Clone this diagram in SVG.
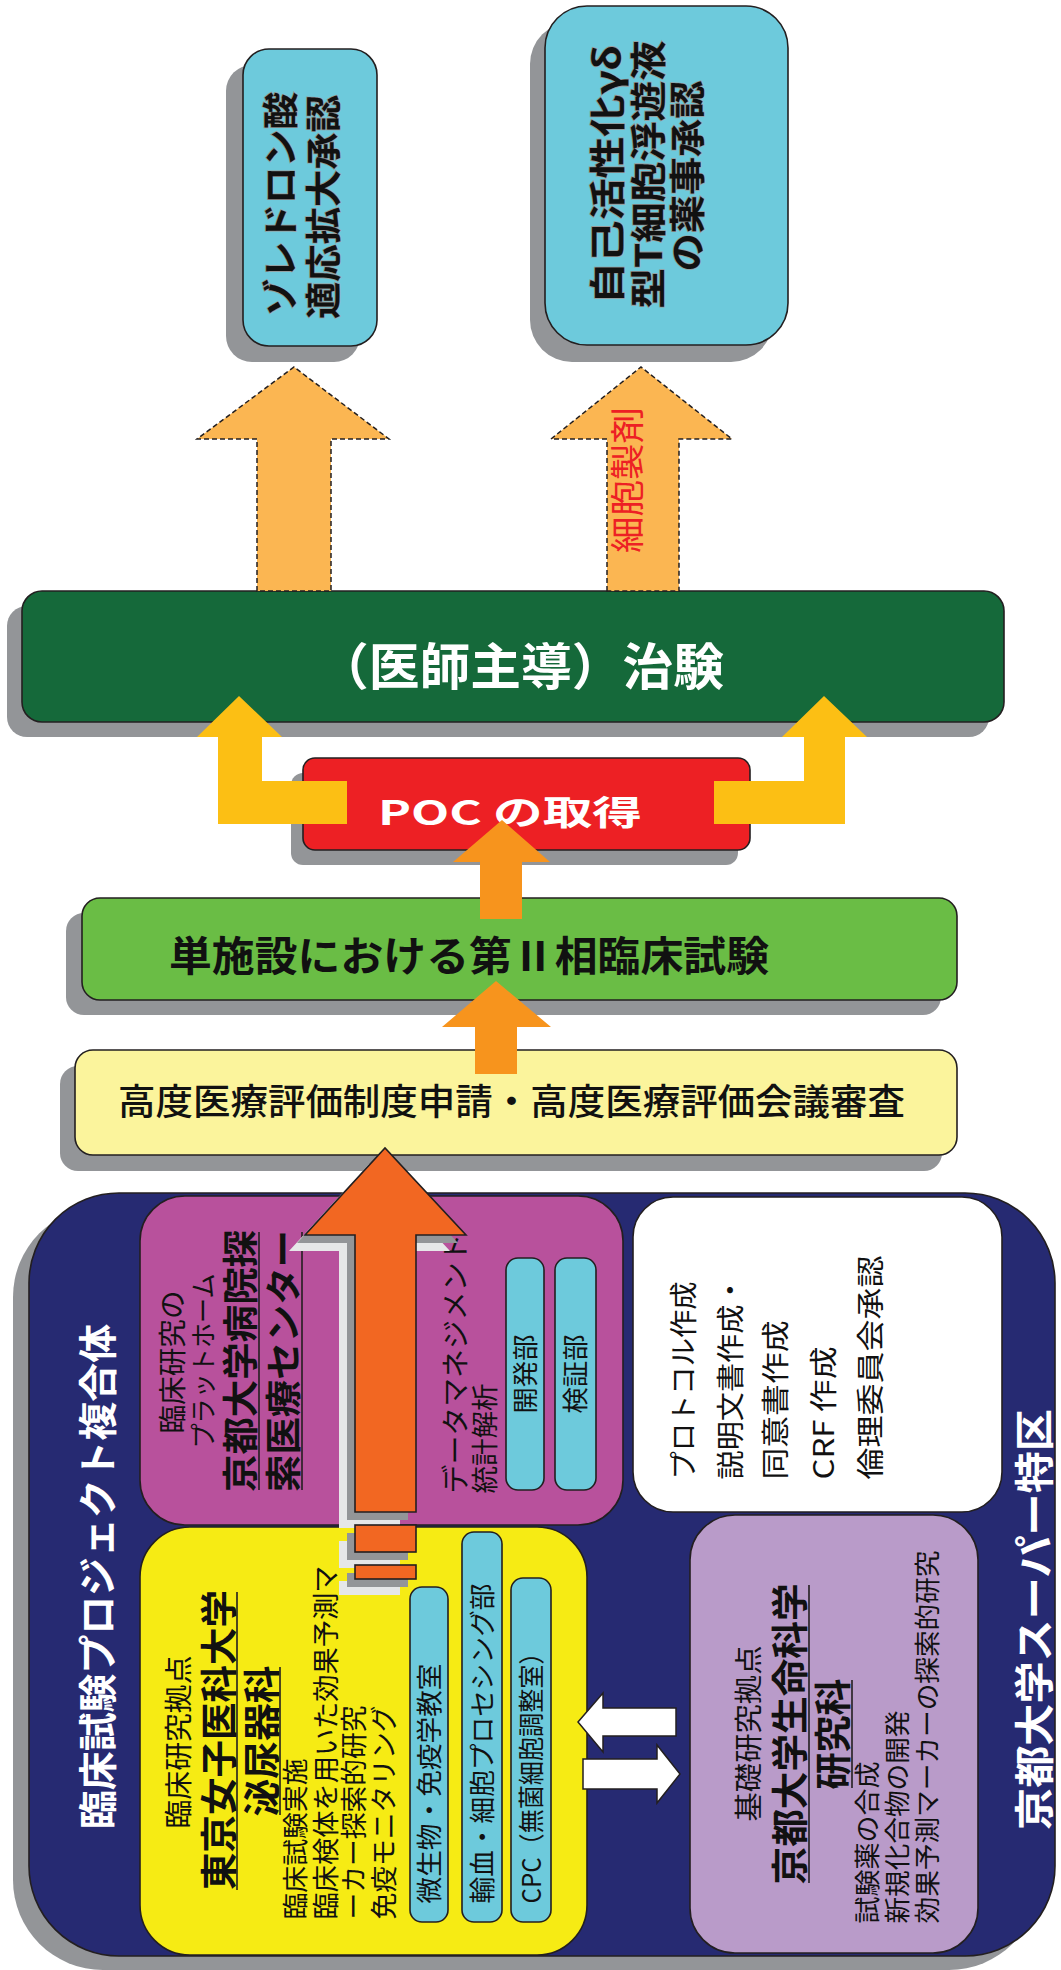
<svg xmlns="http://www.w3.org/2000/svg" width="1061" height="1970" viewBox="0 0 1061 1970">
<style>
.sh{fill:#939598}
.bx{stroke:#231F20;stroke-width:1.6}
.t{font-family:"Noto Sans CJK JP","Noto Sans",sans-serif}
.b{font-weight:bold}
.r{text-anchor:middle}
.ul{stroke:#231F20;stroke-width:1.6}
.halo{stroke:#9a9a9a;stroke-width:1.4;paint-order:stroke}
.cy{fill:#6DCADC;stroke:#231F20;stroke-width:1.6}
</style>
<rect width="1061" height="1970" fill="#ffffff"/>

<!-- Top box A -->
<g id="node-zoledronic">
<rect class="sh" x="226" y="65" width="134" height="297" rx="26"/>
<rect class="bx" x="243" y="49" width="134" height="297" rx="26" fill="#6DCADC"/>
<g class="t b r halo" font-size="36" fill="#111">
<text transform="translate(293.7,204) rotate(-90)" textLength="224" lengthAdjust="spacingAndGlyphs">ゾレドロン酸</text>
<text transform="translate(336.7,207) rotate(-90)" textLength="224" lengthAdjust="spacingAndGlyphs">適応拡大承認</text>
</g>
</g>

<!-- Top box B -->
<g id="node-gammadelta">
<rect class="sh" x="530" y="22" width="243" height="340" rx="42"/>
<rect class="bx" x="545" y="6" width="243" height="339" rx="42" fill="#6DCADC"/>
<g class="t b r halo" font-size="36" fill="#111">
<text transform="translate(620.7,174.5) rotate(-90)" textLength="259" lengthAdjust="spacingAndGlyphs">自己活性化γδ</text>
<text transform="translate(661.7,174.5) rotate(-90)" textLength="268" lengthAdjust="spacingAndGlyphs">型T細胞浮遊液</text>
<text transform="translate(700.7,176) rotate(-90)" textLength="191" lengthAdjust="spacingAndGlyphs">の薬事承認</text>
</g>
</g>

<!-- Green box: investigator-initiated trial -->
<g id="node-trial">
<rect class="sh" x="7" y="606" width="982" height="131" rx="20"/>
<rect class="bx" x="22" y="591" width="982" height="131" rx="20" fill="#15693A"/>
<text class="t b" x="318" y="685" font-size="50" fill="#ffffff" textLength="406" lengthAdjust="spacingAndGlyphs">（医師主導）治験</text>
</g>

<!-- POC box -->
<g id="node-poc">
<rect class="sh" x="291" y="773" width="447" height="92" rx="12"/>
<rect class="bx" x="303" y="758" width="447" height="92" rx="12" fill="#ED2024"/>
<text class="t b" x="378" y="825" font-size="34" fill="#ffffff" textLength="264" lengthAdjust="spacingAndGlyphs">POC の取得</text>
</g>

<!-- Light green box -->
<g id="node-phase2">
<rect class="sh" x="66" y="913" width="875" height="102" rx="18"/>
<rect class="bx" x="82" y="898" width="875" height="102" rx="18" fill="#6ABD45"/>
<text class="t b" x="169" y="971" font-size="41" fill="#111" textLength="600" lengthAdjust="spacingAndGlyphs">単施設における第Ⅱ相臨床試験</text>
</g>

<!-- Light yellow box -->
<g id="node-advanced">
<rect class="sh" x="60" y="1066" width="882" height="105" rx="18"/>
<rect class="bx" x="75" y="1050" width="882" height="105" rx="18" fill="#FBF49C"/>
<text class="t" x="118" y="1115" font-size="36" font-weight="500" fill="#111" textLength="787" lengthAdjust="spacingAndGlyphs">高度医療評価制度申請・高度医療評価会議審査</text>
</g>

<!-- Navy complex -->
<g id="node-complex">
<rect class="sh" x="13" y="1207" width="1026" height="763" rx="90"/>
<rect class="bx" x="29" y="1193" width="1026" height="763" rx="90" fill="#262A72"/>
<g class="t b r" fill="#ffffff">
<text transform="translate(111.8,1576.5) rotate(-90)" font-size="39" textLength="505" lengthAdjust="spacingAndGlyphs">臨床試験プロジェクト複合体</text>
<text transform="translate(1049,1619.5) rotate(-90)" font-size="40" textLength="421" lengthAdjust="spacingAndGlyphs">京都大学スーパー特区</text>
</g>
</g>

<!-- Magenta box -->
<g id="node-kyoto-hospital">
<rect class="bx" x="140" y="1196" width="483" height="329" rx="45" fill="#B8519C"/>
<g class="t r" fill="#111">
<text transform="translate(182.6,1362) rotate(-90)" font-size="28" textLength="143" lengthAdjust="spacingAndGlyphs">臨床研究の</text>
<text transform="translate(212.9,1361) rotate(-90)" font-size="26" textLength="175" lengthAdjust="spacingAndGlyphs">プラットホーム</text>
<text class="b" transform="translate(253.7,1361) rotate(-90)" font-size="36" textLength="262" lengthAdjust="spacingAndGlyphs">京都大学病院探</text>
<text class="b" transform="translate(296.7,1361) rotate(-90)" font-size="36" textLength="262" lengthAdjust="spacingAndGlyphs">索医療センター</text>
<text transform="translate(465.6,1363.5) rotate(-90)" font-size="28" textLength="260" lengthAdjust="spacingAndGlyphs">データマネジメント</text>
<text transform="translate(495,1438.5) rotate(-90)" font-size="27" textLength="110" lengthAdjust="spacingAndGlyphs">統計解析</text>
</g>
<line class="ul" x1="259" y1="1232" x2="259" y2="1490"/>
<line class="ul" x1="302" y1="1232" x2="302" y2="1490"/>
<rect class="cy" x="506" y="1258" width="38" height="232" rx="12"/>
<rect class="cy" x="555" y="1258" width="41" height="232" rx="12"/>
<g class="t r" fill="#111" font-size="26">
<text transform="translate(535,1374) rotate(-90)" textLength="79" lengthAdjust="spacingAndGlyphs">開発部</text>
<text transform="translate(585,1374) rotate(-90)" textLength="79" lengthAdjust="spacingAndGlyphs">検証部</text>
</g>
</g>

<!-- White box -->
<g id="node-protocol">
<rect class="bx" x="633" y="1197" width="369" height="315" rx="40" fill="#ffffff"/>
<g class="t r" fill="#111" font-size="28">
<text transform="translate(694,1380.5) rotate(-90)" textLength="198" lengthAdjust="spacingAndGlyphs">プロトコル作成</text>
<text transform="translate(741,1377.5) rotate(-90)" textLength="204" lengthAdjust="spacingAndGlyphs">説明文書作成・</text>
<text transform="translate(786,1400) rotate(-90)" textLength="159" lengthAdjust="spacingAndGlyphs">同意書作成</text>
<text transform="translate(834,1413) rotate(-90)" textLength="133" lengthAdjust="spacingAndGlyphs">CRF 作成</text>
<text transform="translate(881,1367.5) rotate(-90)" textLength="224" lengthAdjust="spacingAndGlyphs">倫理委員会承認</text>
</g>
</g>

<!-- Yellow box: Tokyo Women's -->
<g id="node-twmu">
<rect class="bx" x="140" y="1527" width="447" height="428" rx="50" fill="#F6EB14"/>
<g class="t r" fill="#111">
<text transform="translate(188.6,1742) rotate(-90)" font-size="28" textLength="173" lengthAdjust="spacingAndGlyphs">臨床研究拠点</text>
<text class="b" transform="translate(232.5,1740) rotate(-90)" font-size="37" textLength="300" lengthAdjust="spacingAndGlyphs">東京女子医科大学</text>
<text class="b" transform="translate(275.5,1741) rotate(-90)" font-size="37" textLength="151" lengthAdjust="spacingAndGlyphs">泌尿器科</text>
<text transform="translate(305.3,1839) rotate(-90)" font-size="26.5" textLength="161" lengthAdjust="spacingAndGlyphs">臨床試験実施</text>
<text transform="translate(335.5,1742.5) rotate(-90)" font-size="27" textLength="354" lengthAdjust="spacingAndGlyphs">臨床検体を用いた効果予測マ</text>
<text transform="translate(363.5,1812.5) rotate(-90)" font-size="27" textLength="214" lengthAdjust="spacingAndGlyphs">ーカー探索的研究</text>
<text transform="translate(393.5,1812.5) rotate(-90)" font-size="27" textLength="214" lengthAdjust="spacingAndGlyphs">免疫モニタリング</text>
</g>
<line class="ul" x1="237" y1="1592" x2="237" y2="1890"/>
<line class="ul" x1="280" y1="1667" x2="280" y2="1815"/>
<rect class="cy" x="410" y="1587" width="38" height="335" rx="12"/>
<rect class="cy" x="462" y="1532" width="40" height="390" rx="12"/>
<rect class="cy" x="511" y="1578" width="40" height="344" rx="12"/>
<g class="t r" fill="#111" font-size="26">
<text transform="translate(439,1783.5) rotate(-90)" textLength="240" lengthAdjust="spacingAndGlyphs">微生物・免疫学教室</text>
<text transform="translate(492,1743.5) rotate(-90)" textLength="320" lengthAdjust="spacingAndGlyphs">輸血・細胞プロセシング部</text>
<text transform="translate(541,1772) rotate(-90)" textLength="263" lengthAdjust="spacingAndGlyphs">CPC（無菌細胞調整室）</text>
</g>
</g>

<!-- Lavender box -->
<g id="node-lifescience">
<rect class="bx" x="690" y="1515" width="288" height="438" rx="45" fill="#B99BC9"/>
<g class="t r" fill="#111">
<text transform="translate(759,1733.5) rotate(-90)" font-size="28" textLength="176" lengthAdjust="spacingAndGlyphs">基礎研究拠点</text>
<text class="b" transform="translate(804.4,1734) rotate(-90)" font-size="37" textLength="301" lengthAdjust="spacingAndGlyphs">京都大学生命科学</text>
<text class="b" transform="translate(847.4,1734) rotate(-90)" font-size="37" textLength="111" lengthAdjust="spacingAndGlyphs">研究科</text>
<text transform="translate(877.3,1842.5) rotate(-90)" font-size="26.5" textLength="162" lengthAdjust="spacingAndGlyphs">試験薬の合成</text>
<text transform="translate(907.3,1817) rotate(-90)" font-size="26.5" textLength="213" lengthAdjust="spacingAndGlyphs">新規化合物の開発</text>
<text transform="translate(937.3,1737) rotate(-90)" font-size="26.5" textLength="373" lengthAdjust="spacingAndGlyphs">効果予測マーカーの探索的研究</text>
</g>
<line class="ul" x1="809" y1="1585" x2="809" y2="1883"/>
<line class="ul" x1="852" y1="1680" x2="852" y2="1788"/>
</g>

<!-- Connectors -->
<g id="connectors">
<polygon points="257,591 257,439 197,439 294,367 389,439 331,439 331,591" fill="#FBB652" stroke="#231F20" stroke-width="1.5" stroke-dasharray="5,3"/>
<polygon points="607,591 607,439 551,439 641,367 732,439 679,439 679,591" fill="#FBB652" stroke="#231F20" stroke-width="1.5" stroke-dasharray="5,3"/>
<text class="t r" transform="translate(640,480) rotate(-90)" font-size="34" fill="#ED2024" textLength="146" lengthAdjust="spacingAndGlyphs">細胞製剤</text>

<polygon points="347,781 262,781 262,737 282,737 239,696 197,737 218,737 218,824 347,824" fill="#FCBF14"/>
<polygon points="714,781 804,781 804,737 782,737 824,696 867,737 845,737 845,824 714,824" fill="#FCBF14"/>

<polygon points="480,919 480,862 453,862 502,820 550,862 522,862 522,919" fill="#F7941D"/>
<polygon points="475,1074 475,1027 442,1027 496,981 551,1027 517,1027 517,1074" fill="#F7941D"/>

<g fill="#E6E7E8">
<polygon points="339,1528 339,1251 289,1251 369,1164 450,1251 400,1251 400,1528"/>
<rect x="339" y="1541" width="61" height="27"/>
<rect x="339" y="1581" width="61" height="14"/>
</g>
<g fill="#939598">
<polygon points="347,1520 347,1243 297,1243 377,1156 458,1243 408,1243 408,1520"/>
<rect x="347" y="1533" width="61" height="27"/>
<rect x="347" y="1573" width="61" height="14"/>
</g>
<g fill="#F26722" stroke="#231F20" stroke-width="1.6">
<polygon points="355,1512 355,1235 305,1235 385,1148 466,1235 416,1235 416,1512"/>
<rect x="355" y="1525" width="61" height="27"/>
<rect x="355" y="1565" width="61" height="14"/>
</g>

<polygon points="578,1722 603,1693 603,1708 676,1708 676,1736 603,1736 603,1752" fill="#ffffff" stroke="#231F20" stroke-width="1.5"/>
<polygon points="583,1759 657,1759 657,1745 680,1774 657,1803 657,1789 583,1789" fill="#ffffff" stroke="#231F20" stroke-width="1.5"/>
</g>
</svg>
